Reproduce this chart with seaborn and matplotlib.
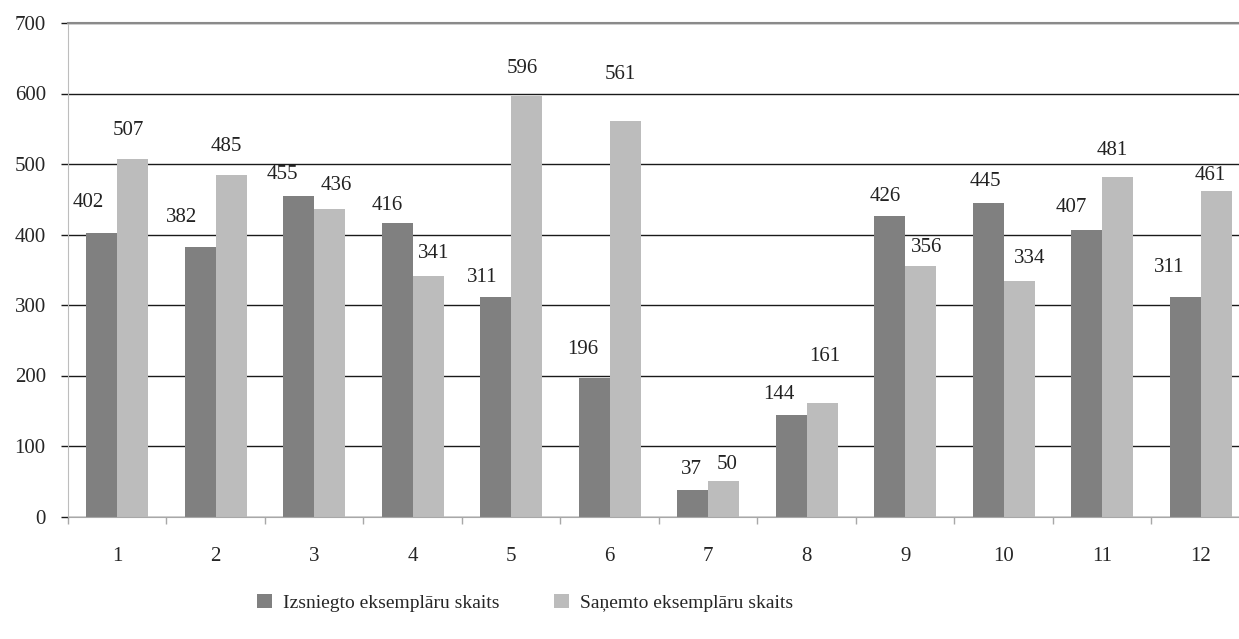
import pandas as pd
import matplotlib
matplotlib.use("Agg")
import matplotlib.pyplot as plt
import seaborn as sns

categories = [str(i) for i in range(1, 13)]
issued = [402, 382, 455, 416, 311, 196, 37, 144, 426, 445, 407, 311]
received = [507, 485, 436, 341, 596, 561, 50, 161, 356, 334, 481, 461]
series_names = ["Izsniegto eksemplāru skaits", "Saņemto eksemplāru skaits"]
colors = ["#808080", "#bcbcbc"]

# hand-placed label nudges (pixels) as in the original layout
issued_dx = [-13, -19, -16, -10, -14, -12, -1, -12, -4, -3, -15, -16]
issued_dy = [31, 30, 21, 18, 20, 29, 21, 20, 20, 21, 22, 30]
received_dx = [-4, -5, 7, 5, -4, -5, 3, 2, 6, 10, -6, -6]
received_dy = [29, 28, 24, 23, 28, 46, 17, 46, 18, 23, 27, 16]

df = pd.DataFrame({
    "kat": categories * 2,
    "val": issued + received,
    "series": [series_names[0]] * 12 + [series_names[1]] * 12,
})

sns.set_style("white")
plt.rcParams["font.family"] = ["Liberation Serif", "DejaVu Serif"]
fs = 15

fig = plt.figure(figsize=(12.39, 6.39), dpi=100)
ax = fig.add_axes([68 / 1239, 1 - 516.5 / 639, (1250 - 68) / 1239, (516.5 - 23) / 639])

sns.barplot(data=df, x="kat", y="val", hue="series", palette=colors,
            width=0.63, saturation=1, linewidth=0, edgecolor="none",
            ax=ax, order=categories, hue_order=series_names)

handles, labels = ax.get_legend_handles_labels()
if ax.get_legend() is not None:
    ax.get_legend().remove()

ax.set_xlim(-0.5, 11.5)
ax.set_ylim(0, 700)
ax.set_yticks(range(0, 701, 100))
ax.set_xlabel("")
ax.set_ylabel("")
ax.set_axisbelow(True)
ax.yaxis.grid(True, color="#1a1a1a", linewidth=1.0)
ax.xaxis.grid(False)

for side in ["left", "bottom", "top"]:
    ax.spines[side].set_visible(True)
ax.spines["right"].set_visible(False)
ax.spines["left"].set_color("#bdbdbd")
ax.spines["bottom"].set_color("#a8a8a8")
ax.spines["top"].set_color("#8a8a8a")
ax.spines["top"].set_linewidth(1.5)

ax.tick_params(axis="y", length=5, width=1, color="#1a1a1a", pad=11, labelsize=fs, left=True)
ax.tick_params(axis="x", which="major", length=0, pad=22, labelsize=fs)
ax.set_xticks([i - 0.5 for i in range(13)], minor=True)
ax.tick_params(axis="x", which="minor", length=5, width=1, color="#a8a8a8", bottom=True)

for cont, dxs, dys in [(ax.containers[0], issued_dx, issued_dy),
                       (ax.containers[1], received_dx, received_dy)]:
    for bar, dx, dy in zip(cont.patches, dxs, dys):
        h = bar.get_height()
        ax.annotate(f"{int(round(h))}", (bar.get_x() + bar.get_width() / 2, h),
                    xytext=(dx, dy), textcoords="offset pixels",
                    ha="center", va="center", fontsize=fs, color="#222222",
                    annotation_clip=False)

fig.legend(handles, labels, loc="center", bbox_to_anchor=(0.424, 1 - 603 / 639),
           ncol=2, frameon=False, fontsize=14, handlelength=0.75, handleheight=0.75,
           handletextpad=0.6, columnspacing=2.8)

fig.savefig("out.png", dpi=100)
